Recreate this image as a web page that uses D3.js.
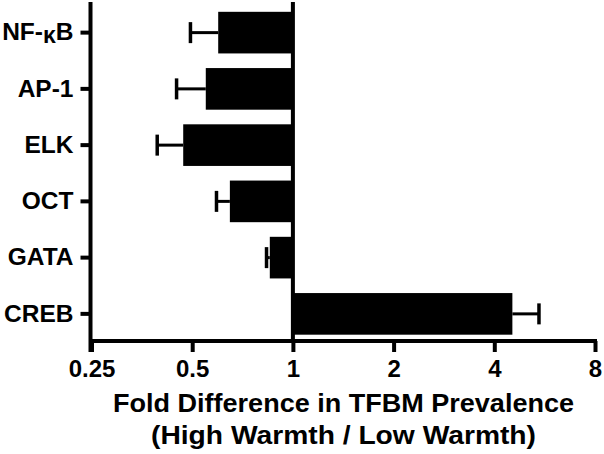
<!DOCTYPE html>
<html>
<head>
<meta charset="utf-8">
<script src="https://cdn.jsdelivr.net/npm/d3@7/dist/d3.min.js"></script>
<style>
  html, body { margin: 0; padding: 0; background: #fff; }
  svg { display: block; }
  text { font-family: "Liberation Sans", Arial, sans-serif; font-weight: bold; fill: #000; }
</style>
</head>
<body>
<svg id="chart" width="604" height="454"></svg>
<script>
const categories = ["NF-κB", "AP-1", "ELK", "OCT", "GATA", "CREB"];
const foldValues = [0.598, 0.549, 0.470, 0.648, 0.853, 4.53];
const errorEnds  = [0.494, 0.449, 0.393, 0.591, 0.834, 5.44];
const xTickValues = [0.25, 0.5, 1, 2, 4, 8];
const xTickLabels = ["0.25", "0.5", "1", "2", "4", "8"];
const titleLines = ["Fold Difference in TFBM Prevalence", "(High Warmth / Low Warmth)"];

const svg = d3.select("#chart");

const x = d3.scaleLog().base(2).domain([0.25, 8]).range([91.5, 595]);
const y = d3.scaleBand().domain(categories).range([4.5, 342]).paddingInner(0.26).paddingOuter(0.13);

const axisY = 341;
const x0 = x(0.25);

// bars
svg.append("g").selectAll("rect")
  .data(categories)
  .join("rect")
  .attr("x", (d, i) => Math.min(x(1), x(foldValues[i])))
  .attr("width", (d, i) => Math.abs(x(foldValues[i]) - x(1)))
  .attr("y", d => y(d))
  .attr("height", y.bandwidth())
  .attr("fill", "#000");

// error bars
const eg = svg.append("g").attr("stroke", "#000");
categories.forEach((c, i) => {
  const cy = y(c) + y.bandwidth() / 2;
  eg.append("line")
    .attr("x1", x(foldValues[i])).attr("x2", x(errorEnds[i]))
    .attr("y1", cy).attr("y2", cy)
    .attr("stroke-width", 3);
  eg.append("line")
    .attr("x1", x(errorEnds[i])).attr("x2", x(errorEnds[i]))
    .attr("y1", cy - 10.5).attr("y2", cy + 10.5)
    .attr("stroke-width", 3.5);
});

// vertical reference line at 1
svg.append("line")
  .attr("x1", x(1)).attr("x2", x(1))
  .attr("y1", 2).attr("y2", axisY)
  .attr("stroke", "#000").attr("stroke-width", 4);

// x axis
const xAxis = d3.axisBottom(x)
  .tickValues(xTickValues)
  .tickFormat((d, i) => xTickLabels[i])
  .tickSize(11).tickSizeOuter(0).tickPadding(8);
const gx = svg.append("g").attr("transform", `translate(0,${axisY})`).call(xAxis);
gx.select(".domain").remove();
gx.selectAll(".tick line").attr("stroke", "#000").attr("stroke-width", 4);
gx.selectAll(".tick text").attr("font-size", 24).attr("font-family", "Liberation Sans, Arial, sans-serif").attr("font-weight", "bold");
gx.append("line")
  .attr("x1", x0 - 2).attr("x2", x(8) + 2)
  .attr("y1", 0).attr("y2", 0)
  .attr("stroke", "#000").attr("stroke-width", 4);

// y axis
const yAxis = d3.axisLeft(y).tickSize(10).tickSizeOuter(0).tickPadding(7);
const gy = svg.append("g").attr("transform", `translate(${x0 - 1},0)`).call(yAxis);
gy.select(".domain").remove();
gy.selectAll(".tick line").attr("stroke", "#000").attr("stroke-width", 4);
gy.selectAll(".tick text")
  .attr("font-size", 24.5).attr("font-family", "Liberation Sans, Arial, sans-serif").attr("font-weight", "bold")
  .each(function(d) {
    if (d.indexOf("κ") >= 0) {
      const t = d3.select(this);
      const parts = d.split("κ");
      t.text(null);
      t.append("tspan").text(parts[0]);
      t.append("tspan").attr("dy", 3).attr("font-size", 23).text("κ");
      t.append("tspan").attr("dy", -3).text(parts[1]);
    }
  });
gy.append("line")
  .attr("x1", 0).attr("x2", 0)
  .attr("y1", 2).attr("y2", axisY + 11)
  .attr("stroke", "#000").attr("stroke-width", 4);

// axis title
const titleW = [461, 385];
const titleY = [412, 444];
titleLines.forEach((t, i) => {
  svg.append("text")
    .attr("x", 343.5).attr("y", titleY[i])
    .attr("text-anchor", "middle")
    .attr("font-size", 25)
    .attr("textLength", titleW[i])
    .attr("lengthAdjust", "spacingAndGlyphs")
    .text(t);
});
</script>
</body>
</html>
